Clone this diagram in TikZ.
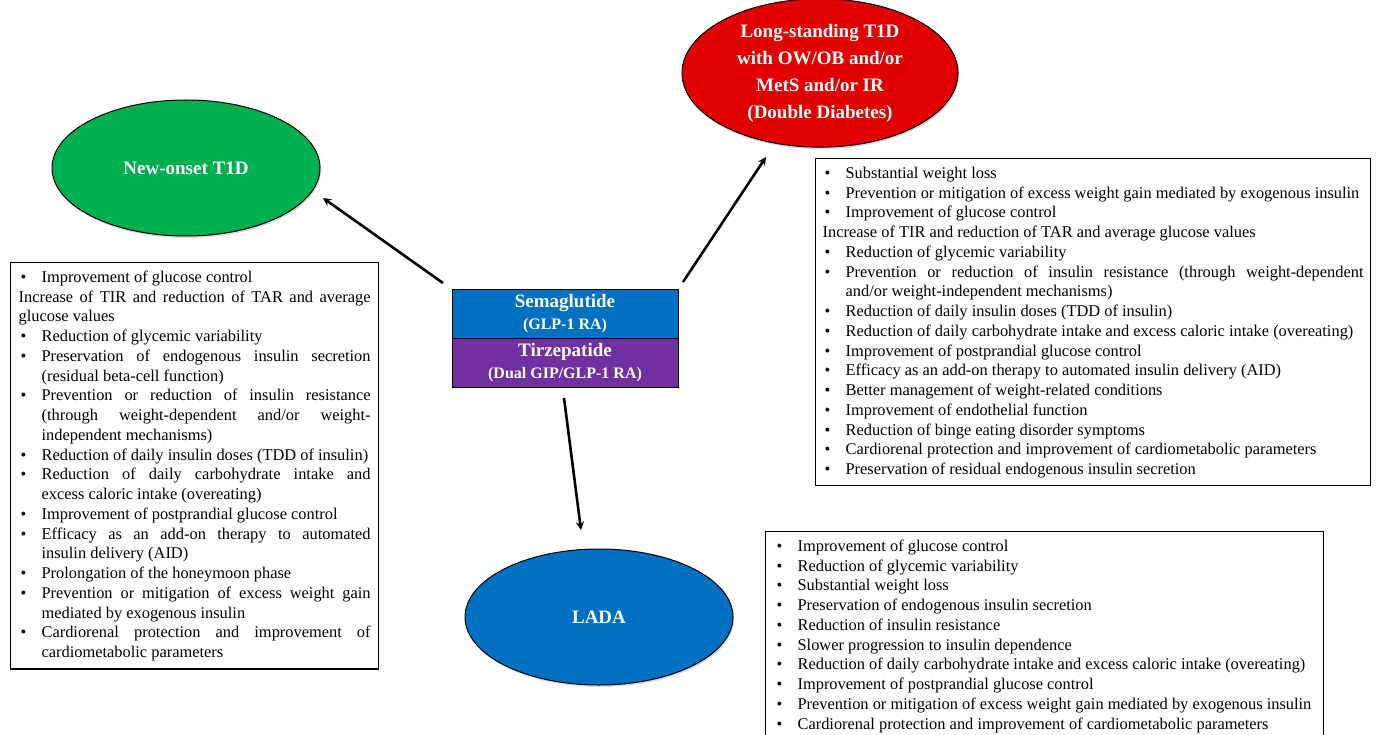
\documentclass[tikz,border=0pt]{standalone}
\usepackage{fontspec}
\setmainfont{Liberation Serif}
\usetikzlibrary{arrows,positioning,shapes.geometric,shadows}

\definecolor{semablue}{RGB}{0,112,192}
\definecolor{tirzpurple}{RGB}{112,48,160}
\definecolor{onsetgreen}{RGB}{0,176,80}
\definecolor{ddred}{RGB}{225,0,0}

\newcommand{\bul}{\par\hangindent=23pt\hangafter=0\noindent\llap{\makebox[23pt][l]{\hspace{2pt}\textbullet}}}
\newcommand{\plain}{\par\noindent}
\newcommand{\boxfoot}[1]{\par\vskip#1\hrule height0pt depth0pt width0pt}

\begin{document}
\begin{tikzpicture}[
  x=1pt, y=-1pt,
  group/.style={ellipse, draw, line width=1pt, minimum width=268pt, minimum height=136pt,
    text=white, align=center, font=\fontsize{19}{27}\selectfont\bfseries,
    drop shadow={shadow xshift=1pt, shadow yshift=-2pt, opacity=0.3}},
  drug/.style={rectangle, draw, line width=1pt, minimum width=226pt, minimum height=49pt,
    inner sep=0pt, outer sep=0pt, text=white, align=center,
    font=\fontsize{19}{22}\selectfont\bfseries},
  txtbox/.style={draw, line width=1.2pt, align=justify, anchor=north west,
    inner xsep=8pt, inner ysep=0pt, font=\fontsize{16.4}{19.75}\selectfont},
  arr/.style={draw, ->, >=stealth, line width=2.6pt}
]
\useasboundingbox (0,0) rectangle (1380,735);

\node[drug, fill=semablue] (sema) at (565,313.5) {Semaglutide\\{\fontsize{16}{22}\selectfont (GLP-1 RA)}};
\node[drug, fill=tirzpurple, below=0pt of sema] (tirz) {Tirzepatide\\{\fontsize{16}{22}\selectfont (Dual GIP/GLP-1 RA)}};

\node[group, fill=onsetgreen] (onset) at (186,168) {New-onset T1D};
\node[group, fill=ddred, minimum width=276pt, minimum height=133pt] (double) at (820,73)
  {Long-standing T1D\\with OW/OB and/or\\MetS and/or IR\\(Double Diabetes)};
\node[group, fill=semablue] (lada) at (599,617) {LADA};

\node[txtbox, text width=352pt] (onsetbox) at (10,262) {%
\bul Improvement of glucose control
\plain Increase of TIR and reduction of TAR and average \linebreak glucose values
\bul Reduction of glycemic variability
\bul Preservation of endogenous insulin secretion \linebreak (residual beta-cell function)
\bul Prevention or reduction of insulin resistance \linebreak (through weight-dependent and/or weight-\linebreak independent mechanisms)
\bul Reduction of daily insulin doses (TDD of insulin)
\bul Reduction of daily carbohydrate intake and \linebreak excess caloric intake (overeating)
\bul Improvement of postprandial glucose control
\bul Efficacy as an add-on therapy to automated \linebreak insulin delivery (AID)
\bul Prolongation of the honeymoon phase
\bul Prevention or mitigation of excess weight gain \linebreak mediated by exogenous insulin
\bul Cardiorenal protection and improvement of \linebreak cardiometabolic parameters
\boxfoot{8pt}};

\node[txtbox, text width=541pt, inner xsep=7pt] (doublebox) at (815,158) {%
\bul Substantial weight loss
\bul Prevention or mitigation of excess weight gain mediated by exogenous insulin
\bul Improvement of glucose control
\plain Increase of TIR and reduction of TAR and average glucose values
\bul Reduction of glycemic variability
\bul Prevention or reduction of insulin resistance (through weight-dependent \linebreak and/or weight-independent mechanisms)
\bul Reduction of daily insulin doses (TDD of insulin)
\bul Reduction of daily carbohydrate intake and excess caloric intake (overeating)
\bul Improvement of postprandial glucose control
\bul Efficacy as an add-on therapy to automated insulin delivery (AID)
\bul Better management of weight-related conditions
\bul Improvement of endothelial function
\bul Reduction of binge eating disorder symptoms
\bul Cardiorenal protection and improvement of cardiometabolic parameters
\bul Preservation of residual endogenous insulin secretion
\boxfoot{7pt}};

\node[txtbox, text width=540pt, inner xsep=9pt] (ladabox) at (765,531) {%
\bul Improvement of glucose control
\bul Reduction of glycemic variability
\bul Substantial weight loss
\bul Preservation of endogenous insulin secretion
\bul Reduction of insulin resistance
\bul Slower progression to insulin dependence
\bul Reduction of daily carbohydrate intake and excess caloric intake (overeating)
\bul Improvement of postprandial glucose control
\bul Prevention or mitigation of excess weight gain mediated by exogenous insulin
\bul Cardiorenal protection and improvement of cardiometabolic parameters
\boxfoot{12pt}};

\coordinate (toonset0) at (443,283);
\coordinate (toonset1) at (323,198);
\coordinate (todouble0) at (683,282);
\coordinate (todouble1) at (766,157);
\coordinate (tolada0) at (564,398);
\coordinate (tolada1) at (581,530);
\draw[arr] (toonset0) -- (toonset1);
\draw[arr] (todouble0) -- (todouble1);
\draw[arr] (tolada0) -- (tolada1);
\end{tikzpicture}
\end{document}
